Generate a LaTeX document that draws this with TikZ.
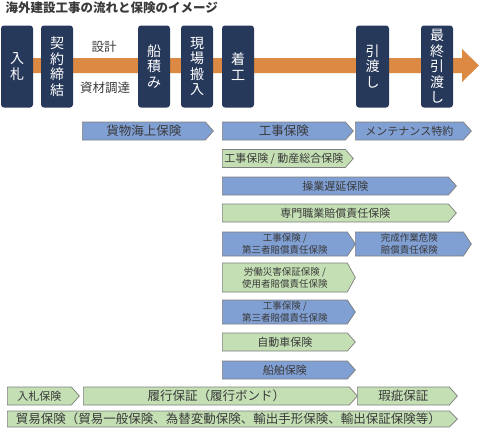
\documentclass[tikz,border=0pt]{standalone}
\usepackage{fontspec}
\newfontfamily\jp{Noto Sans CJK JP}
\usetikzlibrary{shapes.symbols}

\definecolor{navy}{HTML}{27395A}
\definecolor{flow}{HTML}{DC8A43}
\definecolor{bluefill}{HTML}{809FD3}
\definecolor{greenfill}{HTML}{C4DFB4}
\definecolor{edge}{HTML}{7F7F7F}
\definecolor{ink}{HTML}{3A3A3A}

\begin{document}
\begin{tikzpicture}[x=1pt, y=-1pt,
  phase/.style={fill=navy, rounded corners=3, minimum width=32, minimum height=82,
    inner sep=0, text=white, align=center, font=\jp\fontsize{14}{15.5}\selectfont},
  bar/.style={signal, signal to=east, draw=edge, line width=0.7, inner sep=0,
    anchor=west, text=ink, align=center, font=\jp\fontsize{11}{12}\selectfont},
  bluebar/.style={bar, fill=bluefill},
  greenbar/.style={bar, fill=greenfill},
  big/.style={font=\jp\fontsize{12.5}{13}\selectfont},
  small/.style={font=\jp\fontsize{9.5}{12}\selectfont},
  h16/.style={minimum height=16, signal pointer angle=90},
  h18/.style={minimum height=18, signal pointer angle=97},
  h24/.style={minimum height=24, signal pointer angle=113},
  h29/.style={minimum height=29, signal pointer angle=122}]

\useasboundingbox (0,0) rectangle (480,434);

% title
\node [anchor=west, text=ink, font=\jp\bfseries\fontsize{12.5}{13}\selectfont]
  (title) at (2,8) {海外建設工事の流れと保険のイメージ};

% flow arrow
\coordinate (F1) at (2,58);
\coordinate (F2) at (462,58);
\coordinate (F3) at (462,49);
\coordinate (F4) at (479,65.5);
\coordinate (F5) at (462,82);
\coordinate (F6) at (462,73);
\coordinate (F7) at (2,73);

\fill [flow] (F1)--(F2)--(F3)--(F4)--(F5)--(F6)--(F7)--cycle;

% phases
\node [phase] (bid) at (17,66.5) {入\\札};
\node [phase] (contract) at (57,66.5) {契\\約\\締\\結};
\node [phase] (ship) at (154,66.5) {船\\積\\み};
\node [phase] (site) at (197,66.5) {現\\場\\搬\\入};
\node [phase] (start) at (238,66.5) {着\\工};
\node [phase, minimum width=33] (handover) at (372.5,66.5) {引\\渡\\し};
\node [phase] (final) at (437,66.5) {最\\終\\引\\渡\\し};

\node [text=ink, big] (design) at (104,47) {設計};
\node [text=ink, big] (procure) at (105,88) {資材調達};

% insurance bars
\node [bluebar, h18, big, minimum width=131] (cargo) at (82,131) {貨物海上保険};
\node [bluebar, h18, big, minimum width=131] (car) at (222,131) {工事保険};
\node [bluebar, h18, minimum width=116] (maint) at (355,131) {メンテナンス特約};
\node [greenbar, h18, minimum width=131] (eae) at (222,158.5) {工事保険 / 動産総合保険};
\node [bluebar, h18, minimum width=234] (delay) at (222,186) {操業遅延保険};
\node [greenbar, h18, minimum width=234] (prof) at (222,213) {専門職業賠償責任保険};
\node [bluebar, h24, small, minimum width=133] (tpl) at (222,244) {工事保険 /\\第三者賠償責任保険};
\node [bluebar, h24, small, minimum width=116] (compl) at (355,244) {完成作業危険\\賠償責任保険};
\node [greenbar, h29, small, minimum width=133] (labour) at (222,277.5) {労働災害保証保険 /\\使用者賠償責任保険};
\node [bluebar, h24, small, minimum width=133] (tpl2) at (222,312) {工事保険 /\\第三者賠償責任保険};
\node [greenbar, h18, minimum width=133] (auto) at (222,342) {自動車保険};
\node [bluebar, h18, minimum width=133] (hull) at (222,370) {船舶保険};

\node [greenbar, h18, minimum width=72] (bidbond) at (7,396) {入札保険};
\node [greenbar, h18, big, minimum width=274] (perf) at (83,396) {履行保証（履行ボンド）};
\node [greenbar, h18, big, minimum width=100] (warr) at (357,396) {瑕疵保証};
\node [greenbar, h16, big, minimum width=450] (trade) at (7,419) {貿易保険（貿易一般保険、為替変動保険、輸出手形保険、輸出保証保険等）};

\end{tikzpicture}
\end{document}
